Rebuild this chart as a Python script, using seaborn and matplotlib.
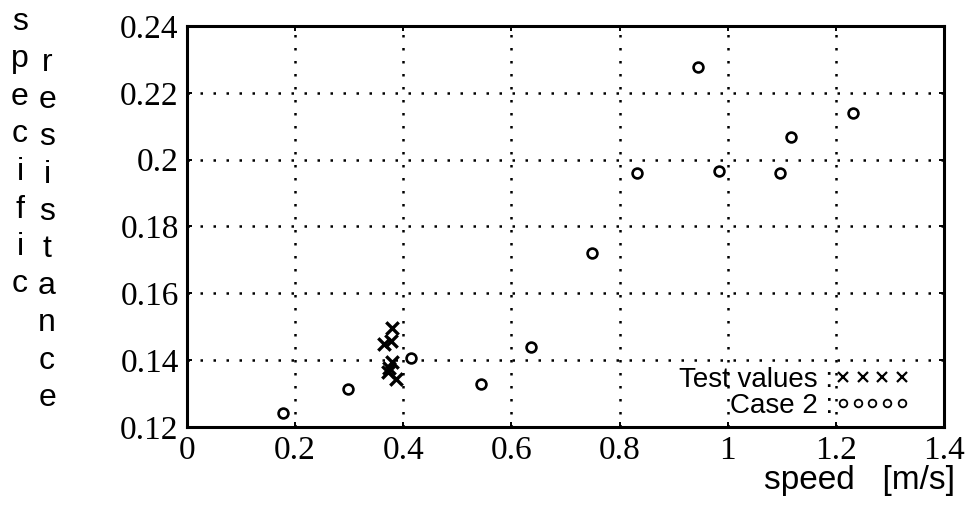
import matplotlib
matplotlib.use("Agg")
import matplotlib.pyplot as plt
from matplotlib.lines import Line2D
from matplotlib.legend_handler import HandlerLine2D
import seaborn as sns
import pandas as pd

# Measured test values (speed in m/s, specific resistance)
test_speed = [0.380, 0.378, 0.365, 0.379, 0.374, 0.372, 0.386]
test_res = [0.1497, 0.1457, 0.1447, 0.1395, 0.1378, 0.1366, 0.1343]

# Computed values for case 2
case2_speed = [0.177, 0.298, 0.414, 0.544, 0.636, 0.749, 0.832, 0.945,
               0.984, 1.097, 1.117, 1.231]
case2_res = [0.1241, 0.1313, 0.1407, 0.1328, 0.1440, 0.1720, 0.1959, 0.2276,
             0.1967, 0.1959, 0.2069, 0.2140]

x_ticks = [0, 0.2, 0.4, 0.6, 0.8, 1.0, 1.2, 1.4]
x_tick_labels = ["0", "0.2", "0.4", "0.6", "0.8", "1", "1.2", "1.4"]
y_ticks = [0.12, 0.14, 0.16, 0.18, 0.20, 0.22, 0.24]
y_tick_labels = ["0.12", "0.14", "0.16", "0.18", "0.2", "0.22", "0.24"]

legend_labels = ["Test values :", "Case 2 :"]
ylabel_words = ["specific", "resistance"]
xlabel_text = "speed   [m/s]"

sns.set_theme(style="white")
plt.rcParams["font.family"] = ["Liberation Sans", "DejaVu Sans"]
plt.rcParams["text.color"] = "black"

W, H = 974, 509
fig = plt.figure(figsize=(W / 100, H / 100), dpi=100)
ax = fig.add_axes([187 / W, 82 / H, 757 / W, 401 / H])

df_test = pd.DataFrame({"speed": test_speed, "res": test_res})
df_case = pd.DataFrame({"speed": case2_speed, "res": case2_res})

sns.scatterplot(data=df_test, x="speed", y="res", marker="x", color="black",
                s=80, linewidth=2.4, ax=ax, zorder=3, legend=False)
sns.scatterplot(data=df_case, x="speed", y="res", marker="o", color="white",
                edgecolor="black", s=50, linewidth=1.9, ax=ax, zorder=3,
                legend=False)

ax.set_xlim(0, 1.4)
ax.set_ylim(0.12, 0.24)
ax.set_xticks(x_ticks)
ax.set_xticklabels(x_tick_labels)
ax.set_yticks(y_ticks)
ax.set_yticklabels(y_tick_labels)
ax.set_xlabel("")
ax.set_ylabel("")

serif = ["Liberation Serif", "DejaVu Serif"]
for lab in ax.get_xticklabels() + ax.get_yticklabels():
    lab.set_fontfamily(serif)
    lab.set_fontsize(24)
    lab.set_color("black")

ax.tick_params(axis="both", which="major", direction="in", length=3.6,
               width=1.4, color="black", top=True, right=True,
               bottom=True, left=True, pad=6)

ax.grid(True, color="black", linestyle=(0, (1, 4.2)), linewidth=1.8)
ax.set_axisbelow(True)
for sp in ax.spines.values():
    sp.set_visible(True)
    sp.set_color("black")
    sp.set_linewidth(2.2)

# Legend: label first, then a row of marker samples
h_test = Line2D([], [], linestyle="none", marker="x", color="black",
                markersize=7, markeredgewidth=1.6)
h_case = Line2D([], [], linestyle="none", marker="o", markerfacecolor="white",
                markeredgecolor="black", markersize=5.5, markeredgewidth=1.3)
ax.legend([h_test, h_case], legend_labels, loc="lower right",
          bbox_to_anchor=(0.956, 0.02), markerfirst=False, frameon=False,
          handler_map={h_test: HandlerLine2D(numpoints=4),
                       h_case: HandlerLine2D(numpoints=5)},
          handlelength=2.75, handletextpad=0.05, labelspacing=0.0,
          fontsize=20, labelcolor="black", borderaxespad=0, borderpad=0)

# Vertical, letter-stacked y label
for word, x0, y0, step in [(ylabel_words[0], 20, 22, 37.5),
                           (ylabel_words[1], 47, 63, 37.2)]:
    for i, ch in enumerate(word):
        fig.text(x0 / W, 1 - (y0 + i * step) / H, ch, ha="center",
                 va="center", fontsize=23, color="black")

fig.text(955 / W, 1 - 480 / H, xlabel_text, ha="right", va="center",
         fontsize=24, color="black")

fig.savefig("out.png", dpi=100, facecolor="white")
